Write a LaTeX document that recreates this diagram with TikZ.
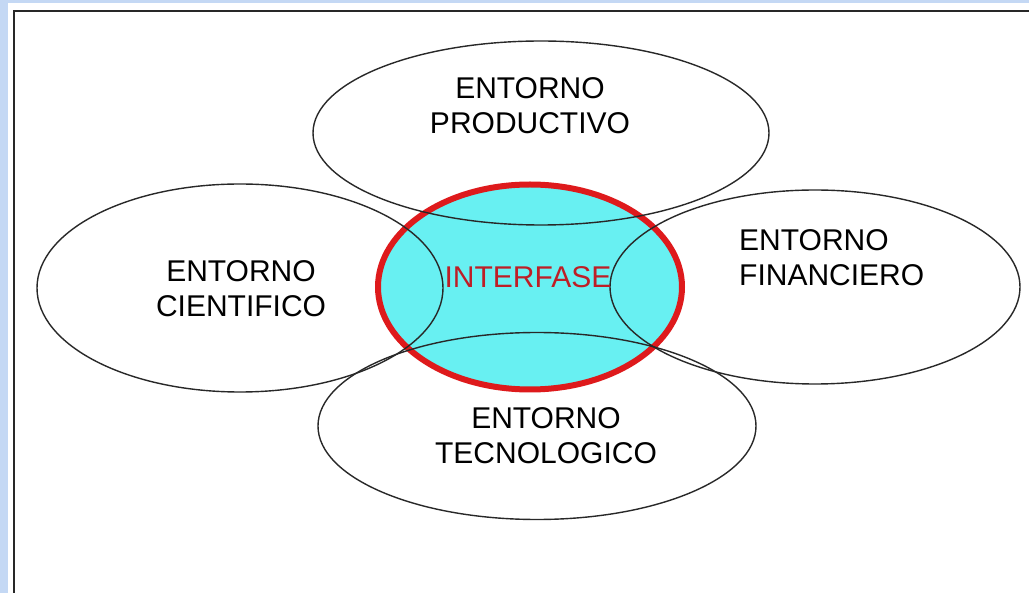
\documentclass[tikz,border=0pt]{standalone}
\usepackage{fontspec}
\setmainfont{Liberation Sans}
\usetikzlibrary{shapes.geometric,positioning}

\definecolor{fondo}{RGB}{196,216,244}
\definecolor{celeste}{RGB}{104,240,242}
\definecolor{rojo}{RGB}{222,26,28}
\definecolor{rojotexto}{RGB}{190,30,38}
\definecolor{linea}{RGB}{40,40,40}

\begin{document}
\begin{tikzpicture}[x=1pt,y=-1pt,
	entorno/.style={ellipse,draw=linea,line width=1.4pt,inner sep=0pt},
	etiqueta/.style={inner sep=0pt,align=center,font=\fontsize{30}{35}\selectfont},
	interfase/.style={ellipse,fill=celeste,draw=rojo,line width=6pt,inner sep=0pt}]
	\useasboundingbox (0,0) rectangle (1029,593);
	\fill[fondo] (0,0) rectangle (1029,593);
	\fill[white] (8,3) rectangle (1029,593);
	\draw[linea,line width=2pt] (14,593) -- (14,11) -- (1029,11);
	
	\node[interfase,minimum width=304pt,minimum height=205pt](inter) at (530,287){};
	
	\node[entorno,minimum width=456pt,minimum height=184pt](prod) at (541,133){};
	\node[entorno,minimum width=406pt,minimum height=208pt](cien) at (240,288){};
	\node[entorno,minimum width=410pt,minimum height=194pt](fin) at (815,287){};
	\node[entorno,minimum width=438pt,minimum height=187pt](tec) at (537,426){};
	
	\node[etiqueta](tprod) at (530,106){ENTORNO\\PRODUCTIVO};
	\node[etiqueta](tcien) at (241,289){ENTORNO\\CIENTIFICO};
	\node[etiqueta,align=left,anchor=west](tfin) at (739,258){ENTORNO\\FINANCIERO};
	\node[etiqueta](ttec) at (546,436){ENTORNO\\TECNOLOGICO};
	\node[etiqueta,text=rojotexto](tint) at (528,277){INTERFASE};
\end{tikzpicture}
\end{document}
